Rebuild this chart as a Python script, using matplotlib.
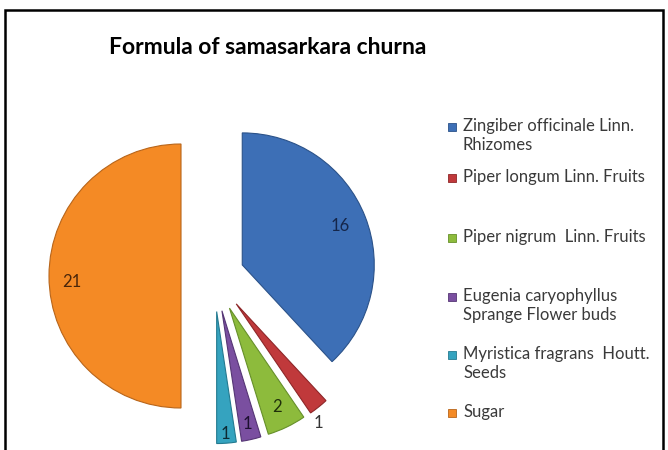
# Exploded pie chart - formula of samasarkara churna
import numpy as np
import matplotlib
matplotlib.use("Agg")
import matplotlib.pyplot as plt
from matplotlib.patches import Rectangle

# data
ingredients = ["Zingiber officinale Linn.\nRhizomes",
               "Piper longum Linn. Fruits",
               "Piper nigrum  Linn. Fruits",
               "Eugenia caryophyllus\nSprange Flower buds",
               "Myristica fragrans  Houtt.\nSeeds",
               "Sugar"]
parts = [16, 1, 2, 1, 1, 21]

# styling
colors = ["#3D6FB6", "#C0393B", "#8DBB3C", "#7A4FA0", "#35A3BF", "#F48A25"]
edges = ["#2B5289", "#8E2628", "#66902A", "#563675", "#247A90", "#B8651A"]
label_colors = ["#15264a", "#333333", "#1f2f0a", "#1d1030", "#0d2a33", "#4a260a"]
explode = [0.23, 0.27, 0.27, 0.27, 0.27, 0.25]   # fraction of radius
label_dist = [0.80, 1.10, 0.83, 0.88, 0.93, 0.83]
label_turn = [0, -4, 0, 0, 0, 3]                  # small angular nudge, degrees
legend_y = [127, 178, 238, 297, 355, 413]   # pixel rows of legend entries

plt.rcParams['font.family'] = ['Lato', 'DejaVu Sans']

W, H = 668, 450
fig = plt.figure(figsize=(W / 100, H / 100), dpi=100)
ax = fig.add_axes([0, 0, 1, 1])

R = 132
wedges, _ = ax.pie(parts, explode=[e * R for e in explode], colors=colors,
                   startangle=90, counterclock=False, radius=R,
                   center=(214, H - 276), frame=True,
                   wedgeprops=dict(linewidth=0.8))
ax.set_xlim(0, W)
ax.set_ylim(0, H)
ax.set_aspect('equal')
ax.axis('off')

for w, ec, v, d, t, lc in zip(wedges, edges, parts, label_dist, label_turn,
                              label_colors):
    w.set_edgecolor(ec)
    mid = np.deg2rad((w.theta1 + w.theta2) / 2 + t)
    cx, cy = w.center
    ax.text(cx + d * R * np.cos(mid), cy + d * R * np.sin(mid), str(v),
            ha='center', va='center', fontsize=12, color=lc)

# title
fig.text(268 / W, 1 - 47 / H, "Formula of samasarkara churna",
         ha='center', va='center', fontsize=16.5, fontweight='bold',
         color='black')

# legend drawn by hand to match the spacing
for lab, col, ec, y in zip(ingredients, colors, edges, legend_y):
    ax.add_patch(Rectangle((448, H - y - 4), 8, 8, facecolor=col,
                           edgecolor=ec, linewidth=0.6))
    ax.text(463, H - y + 9, lab, ha='left', va='top', fontsize=12,
            color='#3a3a3a', linespacing=1.2)

# outer border
ax.add_patch(Rectangle((5, -5), 658, H - 10 + 5, fill=False,
                       edgecolor='black', linewidth=1.8, clip_on=False))

fig.savefig("out.png", dpi=100)
